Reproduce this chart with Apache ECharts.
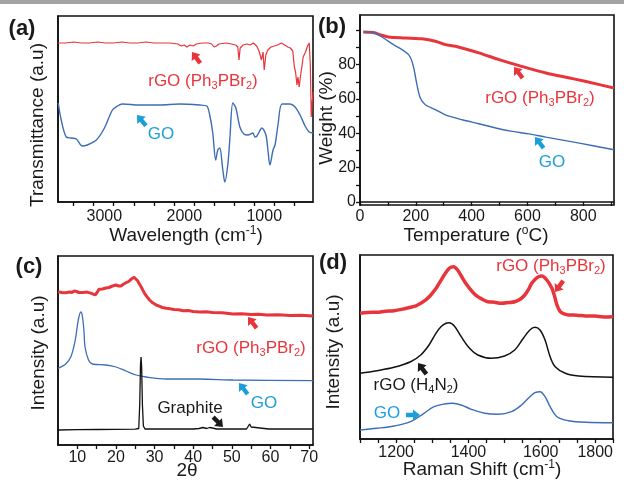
<!DOCTYPE html>
<html>
<head>
<meta charset="utf-8">
<title>rGO (Ph3PBr2) characterisation</title>
<script src="https://cdn.jsdelivr.net/npm/echarts@6/dist/echarts.min.js"></script>
<style>
    html, body {margin: 0; padding: 0; background: #fff;}
    #main {width: 624px; height: 481px;}
</style>
</head>
<body>
<div id="main"></div>
<script>
// (a) FTIR: [wavenumber, transmittance a.u.]
var ftirRGO = [[3586,159],[3486,159],[3385,160],[3285,159],[3185,159],[3084,160],[2984,159],[2883,159],[2783,160],[2682,159],
    [2582,159],[2481,160],[2381,159],[2281,159],[2180,159],[2080,158],[2040,156],[1999,157],[1969,155],[1929,157],[1889,156],
    [1849,158],[1778,159],[1698,159],[1658,158],[1628,155],[1598,156],[1567,158],[1477,159],[1407,158],[1357,157],[1331,155],
    [1316,142],[1301,154],[1266,157],[1216,158],[1176,157],[1136,159],[1095,156],[1065,151],[1035,142],[1015,150],[1000,132],
    [980,147],[955,152],[915,155],[874,156],[834,157],[784,159],[744,157],[704,155],[674,154],[643,151],[623,135],[608,130],
    [591,117],[578,125],[563,115],[543,128],[528,136],[513,145],[483,150],[458,156],[437,159],[424,138],[412,85],[400,100],[387,110]];
var ftirGO = [[3577,99],[3540,82],[3477,65],[3414,64],[3351,63],[3276,56],[3214,57],[3100,62],[2999,74],[2899,92],[2837,96],
    [2774,98],[2561,97],[2310,97],[2059,98],[1807,97],[1719,96],[1682,87],[1644,69],[1607,42],[1581,52],[1556,54],[1518,32],
    [1493,20],[1456,37],[1431,62],[1393,99],[1355,94],[1305,75],[1255,68],[1205,67],[1142,69],[1116,65],[1091,66],[1029,74],
    [979,67],[954,52],[929,37],[890,52],[865,57],[828,77],[778,98],[678,98],[614,95],[552,87],[489,76],[438,70],[388,69]];
var ftirTicks = [624,875,1126,1377,1628,1879,2130,2381,2632,2883,3134,3385];
var ftirLabels = [1000,2000,3000];

// (b) TGA: [temperature C, weight %]
var tgaRGO = [[12,99.1],[30,99.0],[48,98.8],[78,97.2],[102,96.2],[162,95.6],[222,95.1],[270,93.7],[306,91.7],[342,90.8],
    [426,86.9],[498,83.0],[570,79.5],[666,75.2],[762,71.9],[858,68.4],[910,66.4]];
var tgaGO = [[12,99.1],[36,99.1],[54,98.5],[84,95.6],[120,91.7],[150,88.8],[174,85.9],[186,82],[195,76.2],[204,68.4],
    [216,60.6],[234,56.7],[270,53.8],[306,50.8],[366,47.9],[426,45.6],[486,43.1],[546,41.1],[606,39.7],[666,37.8],[786,34.3],[910,30.4]];
var tgaXTicks = [0,100,200,300,400,500,600,700,800,900];
var tgaXLabels = [0,200,400,600,800];
var tgaYTicks = [0,10,20,30,40,50,60,70,80,90,100];
var tgaYLabels = [0,20,40,60,80];

// (c) XRD: [2theta, intensity a.u.]
var xrdRGO = [[5,153.3],[5.5,154.2],[6,152.5],[6.5,153.4],[7,152.3],[7.5,153.6],[8,153],[8.6,152.6],[9.2,154],[9.8,153.5],
    [10.4,152.5],[10.9,151.7],[11.5,152.6],[12,152],[12.5,152.9],[13,151.5],[13.5,151.9],[14,150.8],[14.6,150],[15.2,153],
    [15.6,155.7],[16,155],[16.5,156],[17,157.8],[17.4,157],[17.8,156.4],[18.2,157.5],[18.7,158.6],[19.1,159],[19.5,158.2],
    [20,160],[20.4,159.3],[20.7,159],[21.3,159],[21.7,160.2],[22,161],[22.6,162.3],[23.3,163.5],[23.9,165.7],[24.3,166.4],
    [24.7,167.7],[25.2,166.5],[25.6,164.3],[26,161.5],[26.5,158.3],[27,154.6],[27.4,151.7],[28,148.4],[28.7,145],[29.5,142.2],
    [30.4,140],[31.2,138.8],[32,137.5],[33,136.7],[34,136.2],[35,135.5],[36.2,135.2],[37.4,134.3],[38.7,134.5],[40,133.5],
    [41.7,133],[43.3,133.3],[45,132.5],[47.5,132.3],[50.3,131],[52.5,131.3],[55,130.5],[57,130.8],[59,130],[62,130.2],
    [65,129.5],[68,129.7],[71,129]];
var xrdGO = [[5,76.7],[7,81],[8.3,88],[9.2,100],[9.6,108],[10.3,126],[10.9,133],[11.3,129],[11.7,115],[12,98],[12.9,85],
    [13.9,81],[17.4,80],[20,78],[22.6,74],[25.2,70],[27.8,68],[33,66],[41.7,66],[50.3,65],[71,64.3]];
var xrdGraphite = [[5,15],[10,15.3],[15,15.5],[20,15.7],[25,15.8],[25.9,16.5],[26.15,40],[26.35,80],[26.5,88],[26.65,78],
    [26.85,40],[27.1,19],[27.5,16],[30,16],[35,16],[40,16],[41.5,16.5],[42.5,17.5],[43.5,16.5],[44.2,17.5],[44.6,19.5],[45,17],
    [46,16],[50,16],[53.8,16],[54.3,18],[54.6,21],[55,18],[55.5,16],[59.5,16],[59.9,17.5],[60.3,16],[65,16],[71,16]];
var xrdTicks = [10,15,20,25,30,35,40,45,50,55,60,65,70];
var xrdLabels = [10,20,30,40,50,60,70];

// (d) Raman: [shift cm-1, intensity a.u.]
var ramanRGO = [[1100,125.7],[1120,126.6],[1147,126.7],[1170,127.8],[1194,128.3],[1215,129.6],[1240,131.7],[1255,133.2],
    [1268,135.7],[1282,139.1],[1296,144],[1308,149.4],[1319,155.7],[1333,164],[1347,170.7],[1359,172.3],[1370,169],
    [1384,160.7],[1393,155.4],[1403,150.7],[1414,146.1],[1426,142.3],[1440,139.4],[1454,137.3],[1472,136.8],[1491,135.7],
    [1510,136.4],[1528,137.3],[1543,139.8],[1556,144],[1566,149.3],[1575,155.7],[1585,159.8],[1594,162.3],[1603,163],
    [1617,159],[1631,150.7],[1638,143.2],[1645,134],[1654,127.3],[1665,125.1],[1677,124],[1700,123.8],[1724,123],
    [1750,122.9],[1775,122.1],[1800,122.3]];
var ramanH4N2 = [[1100,65.7],[1147,68.3],[1194,71.7],[1240,77.3],[1268,84],[1291,94],[1310,105.7],[1324,112.3],[1338,115.7],
    [1347,116.3],[1361,113],[1380,102.3],[1403,90.7],[1426,84],[1463,80.7],[1500,83],[1528,89],[1552,100.7],[1570,109],
    [1584,111.7],[1598,109],[1612,99],[1626,82.3],[1640,72.3],[1668,65.7],[1705,63],[1800,61.7]];
var ramanGO = [[1100,9],[1147,10.7],[1194,13],[1240,17.3],[1277,25.7],[1305,32.3],[1333,35],[1356,35.7],[1380,34],[1408,29.7],
    [1445,25.7],[1482,24.7],[1519,27.3],[1547,34],[1570,42.3],[1584,46.3],[1598,47.3],[1612,42.3],[1626,32.3],[1645,22.3],
    [1677,18.3],[1724,16.7],[1800,16.3]];
var ramanTicks = [1100,1150,1200,1250,1300,1350,1400,1450,1500,1550,1600,1650,1700,1750,1800];
var ramanLabels = [1200,1400,1600,1800];

var FONT = '"Liberation Sans", Arial, Helvetica, sans-serif';
var RED = '#e8353b', BLUE = '#3d6db5', CYAN = '#1b9fd9', INK = '#1a1a1a';

function plain(v) { return String(v); }

function xAxis(gi, min, max, ticks, labels, margin, extra) {
    var ax = {
        type: 'value', gridIndex: gi, min: min, max: max,
        splitLine: {show: false},
        axisLine: {lineStyle: {color: '#111', width: 1.6}},
        axisTick: {customValues: ticks, length: 4, lineStyle: {color: '#111', width: 1.3}},
        axisLabel: Object.assign({customValues: labels, margin: margin, fontSize: 16, color: INK,
            fontFamily: FONT, formatter: plain}, (extra && extra.label) || {})
    };
    if (extra && extra.inverse) { ax.inverse = true; }
    return ax;
}
function hiddenY(gi, min, max) {
    return {
        type: 'value', gridIndex: gi, min: min, max: max,
        splitLine: {show: false}, axisTick: {show: false}, axisLabel: {show: false},
        axisLine: {show: true, lineStyle: {color: '#111', width: 1.6}}
    };
}
function line(name, data, xi, color, width, smooth) {
    return {
        name: name, type: 'line', xAxisIndex: xi, yAxisIndex: xi, data: data,
        showSymbol: false, smooth: smooth, lineStyle: {color: color, width: width}
    };
}

var richBase = function (size, color) {
    return {
        n: {fontSize: size, fontFamily: FONT, fill: color, lineHeight: size + 3},
        s: {fontSize: Math.round(size * 0.65), fontFamily: FONT, fill: color, lineHeight: Math.round(size * 0.65), verticalAlign: 'bottom'},
        p: {fontSize: Math.round(size * 0.65), fontFamily: FONT, fill: color, lineHeight: Math.round(size * 0.65), verticalAlign: 'top'}
    };
};
function label(text, x, y, size, color, rot, bold) {
    var rich = richBase(size, color);
    if (bold) { rich.n.fontWeight = 'bold'; }
    return {
        type: 'text', x: x, y: y, rotation: rot || 0, z: 10,
        style: {text: text, align: 'center', verticalAlign: 'middle', rich: rich, fill: color}
    };
}
function arrow(x, y, deg, color) {
    return {
        type: 'polygon', x: x, y: y, rotation: deg * Math.PI / 180, z: 10,
        shape: {points: [[0, 0], [-7, -5.5], [-7, -2.2], [-14, -2.2], [-14, 2.2], [-7, 2.2], [-7, 5.5]]},
        style: {fill: color}
    };
}

var rgoPh = '{n|rGO (Ph}{s|3}{n|PBr}{s|2}{n|)}';

var graphics = [
    {type: 'rect', shape: {x: 0, y: 0, width: 624, height: 4}, style: {fill: '#a3a3a3'}},
    // panel letters
    label('{n|(a)}', 22, 29, 22, INK, 0, true),
    label('{n|(b)}', 332, 27, 22, INK, 0, true),
    label('{n|(c)}', 29, 267, 22, INK, 0, true),
    label('{n|(d)}', 333, 263, 22, INK, 0, true),
    // axis titles
    label('{n|Wavelength (cm}{p|-1}{n|)}', 186, 236, 19, INK),
    label('{n|Transmittance (a.u)}', 38, 125, 19, INK, Math.PI / 2),
    label('{n|Temperature (}{p|o}{n|C)}', 476, 236, 19, INK),
    label('{n|Weight (%)}', 327, 118, 19, INK, Math.PI / 2),
    label('{n|2θ}', 187, 471, 19, INK),
    label('{n|Intensity (a.u)}', 39, 353, 19, INK, Math.PI / 2),
    label('{n|Raman Shift (cm}{p|-1}{n|)}', 482, 470, 19, INK),
    label('{n|Intensity (a.u)}', 334, 352, 19, INK, Math.PI / 2),
    // series annotations
    label(rgoPh, 203, 81, 17, RED), arrow(192, 52, 126, RED),
    label('{n|GO}', 161, 134, 17, CYAN), arrow(137, 115, 130, CYAN),
    label(rgoPh, 540, 98, 17, RED), arrow(514, 67, 128, RED),
    label('{n|GO}', 552, 162, 17, CYAN), arrow(535, 137, 128, CYAN),
    label(rgoPh, 251, 348, 17, RED), arrow(248, 317, 128, RED),
    label('{n|GO}', 264, 403, 17, CYAN), arrow(239, 383, 128, CYAN),
    label('{n|Graphite}', 190, 408, 17, INK), arrow(223, 427, -45, INK),
    label(rgoPh, 551, 266, 17, RED), arrow(555, 292, -126, RED),
    label('{n|rGO (H}{s|4}{n|N}{s|2}{n|)}', 416, 385, 17, INK), arrow(418, 363, 127, INK),
    label('{n|GO}', 387, 413, 17, CYAN), arrow(420, 415, 0, CYAN)
];

var chart = echarts.init(document.getElementById('main'));
chart.setOption({
    animation: false,
    backgroundColor: '#fff',
    grid: [
        {left: 58, top: 16, width: 255, height: 186},
        {left: 360, top: 15, width: 254, height: 190},
        {left: 58, top: 256, width: 255, height: 189},
        {left: 360, top: 255, width: 253, height: 184}
    ].map(function (g) {
        return Object.assign(g, {show: true, borderColor: '#111', borderWidth: 1.6, containLabel: false});
    }),
    xAxis: [
        xAxis(0, 390, 3580, ftirTicks, ftirLabels, 7, {inverse: true}),
        xAxis(1, 0, 910, tgaXTicks, tgaXLabels, 4),
        xAxis(2, 5, 71, xrdTicks, xrdLabels, 5),
        xAxis(3, 1100, 1800, ramanTicks, ramanLabels, 6, {label: {alignMaxLabel: 'right'}})
    ],
    yAxis: [
        hiddenY(0, 0, 186),
        {
            type: 'value', gridIndex: 1, min: -1.8, max: 109,
            splitLine: {show: false},
            axisLine: {lineStyle: {color: '#111', width: 1.6}},
            axisTick: {customValues: tgaYTicks, length: 4, lineStyle: {color: '#111', width: 1.3}},
            axisLabel: {customValues: tgaYLabels, margin: 4, fontSize: 16, color: INK, fontFamily: FONT, formatter: plain}
        },
        hiddenY(2, 0, 189),
        hiddenY(3, 0, 184)
    ],
    series: [
        line('rGO (Ph3PBr2)', ftirRGO, 0, RED, 1.2, false),
        line('GO', ftirGO, 0, BLUE, 1.4, 0.3),
        line('rGO (Ph3PBr2)', tgaRGO, 1, RED, 3, 0.3),
        line('GO', tgaGO, 1, BLUE, 1.4, 0.3),
        line('rGO (Ph3PBr2)', xrdRGO, 2, RED, 3, false),
        line('GO', xrdGO, 2, BLUE, 1.3, 0.3),
        line('Graphite', xrdGraphite, 2, '#111', 1.3, false),
        line('rGO (Ph3PBr2)', ramanRGO, 3, RED, 3.5, 0.3),
        line('rGO (H4N2)', ramanH4N2, 3, '#111', 1.5, 0.35),
        line('GO', ramanGO, 3, BLUE, 1.4, 0.35)
    ],
    graphic: graphics
});
</script>
</body>
</html>
